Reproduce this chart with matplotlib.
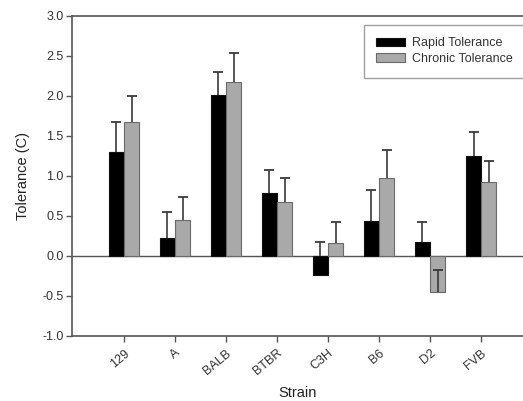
import numpy as np
import matplotlib

matplotlib.use("Agg")
import matplotlib.pyplot as plt

plt.rcParams["font.family"] = ["Liberation Sans", "DejaVu Sans"]

strains = ["129", "A", "BALB", "BTBR", "C3H", "B6", "D2", "FVB"]
rapid = [1.30, 0.23, 2.01, 0.79, -0.24, 0.44, 0.18, 1.25]
rapid_err = [0.37, 0.32, 0.29, 0.28, 0.41, 0.39, 0.24, 0.30]
chronic = [1.67, 0.45, 2.18, 0.68, 0.16, 0.98, -0.45, 0.92]
chronic_err = [0.33, 0.29, 0.36, 0.29, 0.26, 0.34, 0.27, 0.27]

fig = plt.figure(figsize=(5.23, 4.01), dpi=100)
ax = fig.add_axes([72 / 523, 65 / 401, 451 / 523, 320 / 401])

x = np.arange(len(strains))
w = 0.30
ERR = "#3a3a3a"


def upper_err(xs, vals, errs, z):
    # SigmaPlot style: single line from bar end up to a cap, no lower cap
    tops = np.array(vals) + np.array(errs)
    ax.vlines(xs, vals, tops, color=ERR, lw=1.2, zorder=z)
    ax.plot(xs, tops, ls="none", marker="_", ms=7.5, mew=1.3, color=ERR, zorder=z)


ax.bar(x - w / 2, rapid, w, color="black", edgecolor="#111111", lw=0.8,
       label="Rapid Tolerance", zorder=2)
ax.bar(x + w / 2, chronic, w, color="#a9a9a9", edgecolor="#6a6a6a", lw=0.8,
       label="Chronic Tolerance", zorder=2)
upper_err(x - w / 2, rapid, rapid_err, 1.5)
upper_err(x + w / 2, chronic, chronic_err, 3)

ax.axhline(0, color="#555555", lw=1.0, zorder=1)

ax.set_xlim(-1.02, 7.82)
ax.set_ylim(-1.0, 3.0)
ax.set_yticks(np.arange(-1.0, 3.01, 0.5))
ax.set_yticklabels([f"{v:.1f}" for v in np.arange(-1.0, 3.01, 0.5)])
ax.set_xticks(x)
ax.set_xticklabels(strains, rotation=40, ha="right", rotation_mode="anchor")

for s in ("left", "bottom", "top"):
    ax.spines[s].set_color("#555555")
    ax.spines[s].set_linewidth(1.2)
ax.spines["right"].set_visible(False)
ax.tick_params(direction="out", length=4, width=1.0, color="#555555",
               labelsize=9, labelcolor="#333333", pad=2)
ax.tick_params(axis="x", pad=4)

ax.set_xlabel("Strain", fontsize=10.5, color="#222222", labelpad=6)
ax.set_ylabel("Tolerance (C)", fontsize=10.5, color="#222222", labelpad=9)

leg = ax.legend(loc="upper right", bbox_to_anchor=(1.006, 0.972), fontsize=9,
                frameon=True, fancybox=False, handlelength=2.3, handleheight=0.7,
                borderpad=1.0, labelspacing=0.3, handletextpad=0.6,
                borderaxespad=0)
leg.get_frame().set_edgecolor("#888888")
leg.get_frame().set_linewidth(1.0)
for t in leg.get_texts():
    t.set_color("#333333")

fig.savefig("out.png", dpi=100)
